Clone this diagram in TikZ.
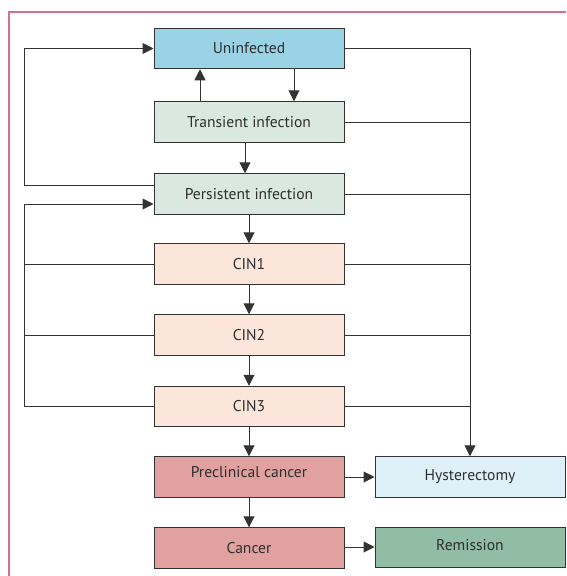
\documentclass[tikz,border=0pt]{standalone}
\usepackage{fontspec}
\setmainfont{PT Sans}
\usetikzlibrary{arrows.meta}
\definecolor{frame}{HTML}{D4708F}
\definecolor{cblue}{HTML}{9BD3E6}
\definecolor{cgreen}{HTML}{D9E8E1}
\definecolor{cpeach}{HTML}{FCE6DC}
\definecolor{cred}{HTML}{E0A19F}
\definecolor{clblue}{HTML}{DEF0F8}
\definecolor{cdgreen}{HTML}{90BDA4}
\definecolor{lin}{HTML}{333333}
\begin{document}
\begin{tikzpicture}[x=1pt,y=-1pt,
  box/.style={draw=lin,line width=1pt,minimum width=190pt,minimum height=40.5pt,inner sep=0pt,font=\fontsize{15.6}{17}\selectfont,text=black!82},
  con/.style={draw=lin,line width=1pt},
  arr/.style={con,-{Triangle[length=11pt,width=11pt]}}]
\useasboundingbox (0,0) rectangle (566,576);
\draw[frame,line width=1.2pt] (566,12) -- (9,12) -- (9,576);
\node[box,fill=cblue] (un) at (249,48.5) {Uninfected};
\node[box,fill=cgreen] (tr) at (249,122) {Transient infection};
\node[box,fill=cgreen] (pe) at (249,194) {Persistent infection};
\node[box,fill=cpeach] (c1) at (249,264) {CIN1};
\node[box,fill=cpeach] (c2) at (249,335) {CIN2};
\node[box,fill=cpeach] (c3) at (249,406.5) {CIN3};
\node[box,fill=cred,text depth=10pt] (pc) at (249,477) {Preclinical cancer};
\node[box,fill=cred] (ca) at (249,548) {Cancer};
\node[box,fill=clblue] (hy) at (470,477) {Hysterectomy};
\node[box,fill=cdgreen,text depth=4pt] (re) at (470,547.3) {Remission};
\coordinate (lx) at (24,0);
\coordinate (rx) at (470,0);
% vertical arrows
\draw[arr] (un.south -| 294,0) -- (tr.north -| 294,0);
\draw[arr] (tr.north -| 200,0) -- (un.south -| 200,0);
\draw[arr] (tr.south -| 245,0) -- (pe.north -| 245,0);
\draw[arr] (pe) -- (c1);
\draw[arr] (c1) -- (c2);
\draw[arr] (c2) -- (c3);
\draw[arr] (c3) -- (pc);
\draw[arr] (pc) -- (ca);
\draw[arr] (pc) -- (hy);
\draw[arr] (ca.east |- 0,547) -- (re.west |- 0,547);
% left loops
\draw[arr] (pe.west |- 0,185) -- (lx |- 0,185) -- (lx |- 0,48.5) -- (un.west);
\draw[arr] (c3.west) -- (lx |- c3) -- (lx |- 0,204) -- (pe.west |- 0,204);
\draw[con] (c1.west) -- (lx |- c1);
\draw[con] (c2.west) -- (lx |- c2);
% right collector
\draw[arr] (un.east) -- (rx |- un) -- (hy.north);
\draw[con] (tr.east) -- (rx |- tr);
\draw[con] (pe.east) -- (rx |- pe);
\draw[con] (c1.east) -- (rx |- c1);
\draw[con] (c2.east) -- (rx |- c2);
\draw[con] (c3.east) -- (rx |- c3);
\end{tikzpicture}
\end{document}
